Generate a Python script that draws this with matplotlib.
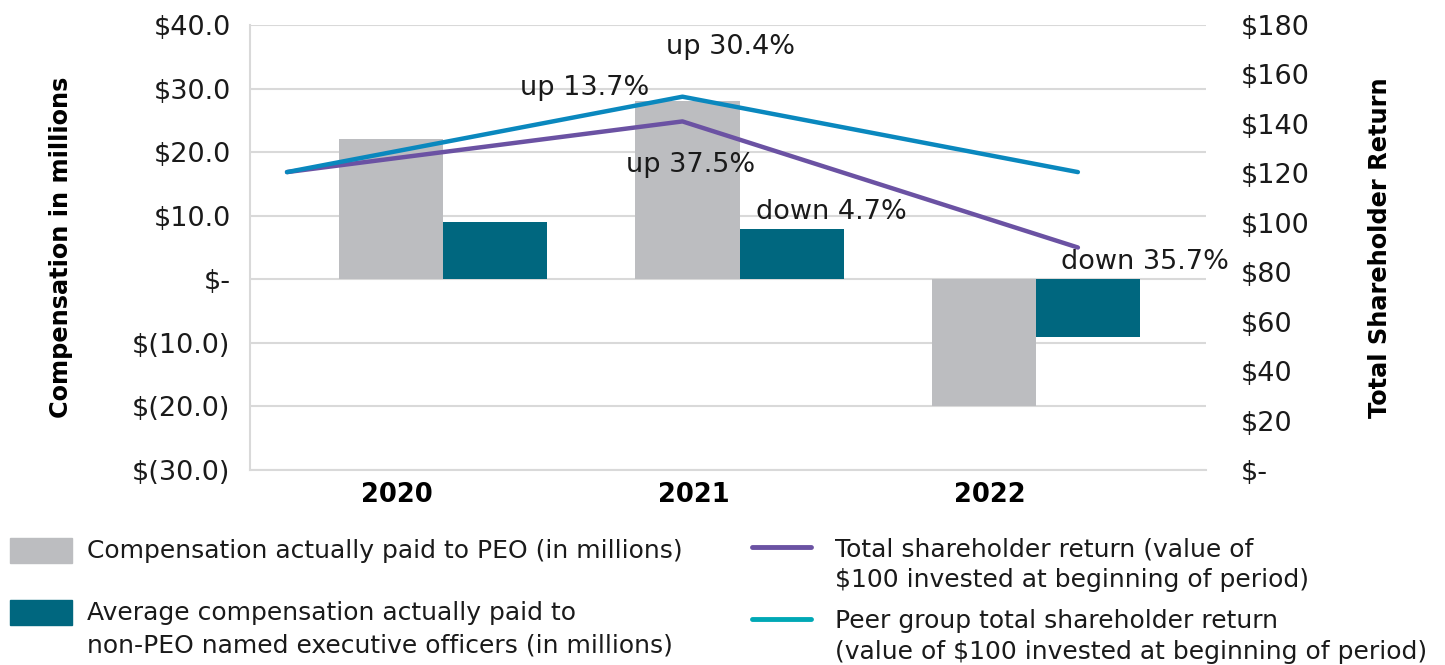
import matplotlib
matplotlib.use("Agg")
import matplotlib.pyplot as plt
from matplotlib.patches import Rectangle
from matplotlib.lines import Line2D
import numpy as np

plt.rcParams['font.family'] = ['DejaVu Sans']

# ---------------- data ----------------
years = ["2020", "2021", "2022"]
peo_comp = [22.0, 28.0, -20.0]          # $ millions
neo_comp = [9.0, 7.9, -9.1]             # $ millions
tsr = [120.5, 141.0, 90.0]              # value of $100
peer_tsr = [120.5, 151.0, 120.5]        # value of $100
left_ticks = [40, 30, 20, 10, 0, -10, -20, -30]
left_labels = ["$40.0", "$30.0", "$20.0", "$10.0", "$-", "$(10.0)", "$(20.0)", "$(30.0)"]
right_ticks = [180, 160, 140, 120, 100, 80, 60, 40, 20, 0]
right_labels = ["$180", "$160", "$140", "$120", "$100", "$80", "$60", "$40", "$20", "$-"]
annotations = ["up 13.7%", "up 30.4%", "up 37.5%", "down 4.7%", "down 35.7%"]

# ---------------- style ----------------
C_GRAY = "#BCBDC0"
C_TEAL = "#00677F"
C_PURPLE = "#6B52A3"
C_BLUE = "#0A88BE"
C_CYAN_LEG = "#00A8B5"
C_GRID = "#D9D9D9"
C_TEXT = "#1a1a1a"

TICK_FS = 19.5
ANN_FS = 19.5
LEG_FS = 18
YEAR_FS = 18.5
LAB_FS = 17.3

W, H = 1445, 665
fig = plt.figure(figsize=(W / 100, H / 100), dpi=100)

L, R, T, B = 250, 1206, 25, 470
pos = [L / W, 1 - B / H, (R - L) / W, (B - T) / H]

ax = fig.add_axes(pos)
x = np.arange(len(years))
bw = 0.351
ax.bar(x - bw / 2, peo_comp, width=bw, color=C_GRAY, zorder=2)
ax.bar(x + bw / 2, neo_comp, width=bw, color=C_TEAL, zorder=2)
ax.set_xlim(-0.651, 2.573)
ax.set_ylim(-30, 40)
ax.set_yticks(left_ticks)
ax.set_yticklabels(left_labels, fontsize=TICK_FS, color=C_TEXT)
ax.yaxis.grid(True, color=C_GRID, linewidth=1.5, zorder=0)
ax.set_axisbelow(True)
ax.tick_params(axis='y', length=0, pad=14)
ax.tick_params(axis='x', length=0, pad=9)
ax.set_xticks(x - 0.155)
ax.set_xticklabels(years, fontsize=YEAR_FS, fontweight='bold', color='black')
for s in ["top", "right"]:
    ax.spines[s].set_visible(False)
for s in ["left", "bottom"]:
    ax.spines[s].set_color(C_GRID)
    ax.spines[s].set_linewidth(1.5)
ax.set_ylabel("Compensation in millions", fontsize=LAB_FS, fontweight='bold')
ax.yaxis.set_label_coords((73 - L) / (R - L), 0.5)

# secondary y axis (labels)
ax2 = ax.twinx()
ax2.set_ylim(0, 180)
ax2.set_yticks(right_ticks)
ax2.set_yticklabels(right_labels, fontsize=TICK_FS, color=C_TEXT)
ax2.tick_params(axis='y', length=0, pad=25)
for s in ax2.spines.values():
    s.set_visible(False)
ax2.set_ylabel("Total Shareholder Return", fontsize=LAB_FS, fontweight='bold')
ax2.yaxis.set_label_coords((1368 - L) / (R - L), 0.5)

# line axes with its own category scale
ax3 = fig.add_axes(pos, facecolor="none")
ax3.set_xlim(-0.0936, 2.324)
ax3.set_ylim(0, 180)
ax3.axis("off")
ax3.plot(x, tsr, color=C_PURPLE, linewidth=3.2, solid_capstyle='round', zorder=3)
ax3.plot(x, peer_tsr, color=C_BLUE, linewidth=3.2, solid_capstyle='round', zorder=3)

# annotations (pixel positions of text centers)
ann_pos = [(585, 88), (730, 47), (691, 165), (831, 212), (1145, 262)]
for txt, (px, py) in zip(annotations, ann_pos):
    fig.text(px / W, 1 - py / H, txt, fontsize=ANN_FS, ha='center', va='center', color=C_TEXT)

# ---------------- legend (manual) ----------------
def fx(px):
    return px / W

def fy(py):
    return 1 - py / H

fig.add_artist(Rectangle((fx(10), fy(563)), 62 / W, 25 / H, color=C_GRAY, transform=fig.transFigure))
fig.add_artist(Rectangle((fx(10), fy(625)), 62 / W, 25 / H, color=C_TEAL, transform=fig.transFigure))
fig.text(fx(87), fy(551), "Compensation actually paid to PEO (in millions)", fontsize=LEG_FS, va='center', color=C_TEXT)
fig.text(fx(87), fy(613), "Average compensation actually paid to", fontsize=LEG_FS, va='center', color=C_TEXT)
fig.text(fx(87), fy(645), "non-PEO named executive officers (in millions)", fontsize=LEG_FS, va='center', color=C_TEXT)

fig.add_artist(Line2D([fx(752), fx(811)], [fy(547), fy(547)], color=C_PURPLE, linewidth=3.5,
                      solid_capstyle='round', transform=fig.transFigure))
fig.add_artist(Line2D([fx(752), fx(811)], [fy(619), fy(619)], color=C_CYAN_LEG, linewidth=3.5,
                      solid_capstyle='round', transform=fig.transFigure))
fig.text(fx(835), fy(549), "Total shareholder return (value of", fontsize=LEG_FS, va='center', color=C_TEXT)
fig.text(fx(835), fy(580), "$100 invested at beginning of period)", fontsize=LEG_FS, va='center', color=C_TEXT)
fig.text(fx(835), fy(621), "Peer group total shareholder return", fontsize=LEG_FS, va='center', color=C_TEXT)
fig.text(fx(835), fy(652), "(value of $100 invested at beginning of period)", fontsize=LEG_FS, va='center', color=C_TEXT)

fig.savefig("out.png", dpi=100)
